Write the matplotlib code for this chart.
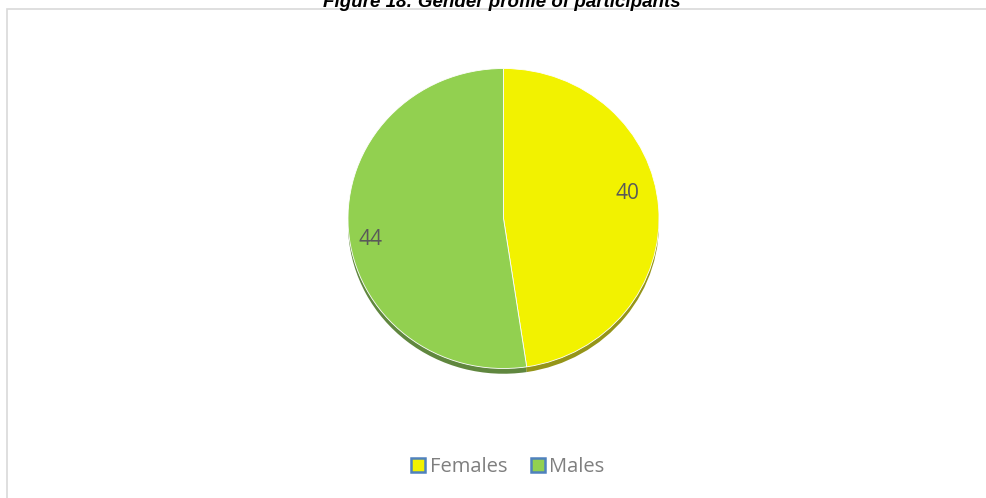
import matplotlib
matplotlib.use("Agg")
import matplotlib.pyplot as plt
from matplotlib.patches import Rectangle
from matplotlib.lines import Line2D

categories = ["Females", "Males"]
values = [40, 44]
colors = ["#F2F200", "#92D050"]
shadow_colors = ["#8A8A00", "#4F7A2A"]
title = "Figure 18: Gender profile of participants"

W, H = 987, 498
fig = plt.figure(figsize=(W / 100, H / 100), dpi=100)
fig.patch.set_facecolor("white")

# chart border
fig.add_artist(Rectangle((6.5 / W, -0.01), (W - 6.5) / W + 0.01, 1 - 9.5 / H + 0.01,
                         transform=fig.transFigure, fill=False, edgecolor="#D9D9D9", lw=1.2))

# pie axes (pixel box)
cx, cy, rx, ry = 503.5, 218.5, 155.5, 150
ax = fig.add_axes([(cx - rx) / W, 1 - (cy + ry) / H, 2 * rx / W, 2 * ry / H])

# shadow
sh, _ = ax.pie(values, colors=shadow_colors, startangle=90, counterclock=False,
               radius=1.0, center=(0.0, -0.035),
               wedgeprops=dict(linewidth=0))
for w in sh:
    w.set_alpha(0.9)

wedges, texts = ax.pie(values, colors=colors, startangle=90, counterclock=False,
                       radius=1.0, labels=[str(v) for v in values], labeldistance=0.83,
                       wedgeprops=dict(linewidth=0.6, edgecolor="#FFFFFF"),
                       textprops=dict(color="#595959", fontsize=15, family="Open Sans"))
label_pos = [(0.80, 0.17), (-0.855, -0.14)]
for t, p in zip(texts, label_pos):
    t.set_ha("center")
    t.set_va("center")
    t.set_position(p)
ax.set_aspect("auto")
ax.set_xlim(-1, 1)
ax.set_ylim(-1, 1)
ax.axis("off")

# title (partially cut at top)
fig.text(502 / W, 1 - 7 / H, title, ha="center", va="baseline",
         fontsize=13.5, fontweight="bold", fontstyle="italic",
         family="Liberation Sans", color="black")

handles = [Line2D([], [], marker="s", linestyle="none", markersize=10,
                  markerfacecolor=c, markeredgecolor="#4F81BD", markeredgewidth=1.8)
           for c in colors]
fig.legend(handles, categories, loc="center", bbox_to_anchor=(505 / W, 1 - 467 / H),
           ncol=2, frameon=False, handletextpad=-0.1, columnspacing=0.9,
           handlelength=1.3, prop=dict(family="Open Sans", size=14.5), labelcolor="#7F7F7F")

fig.savefig("out.png", dpi=100)
